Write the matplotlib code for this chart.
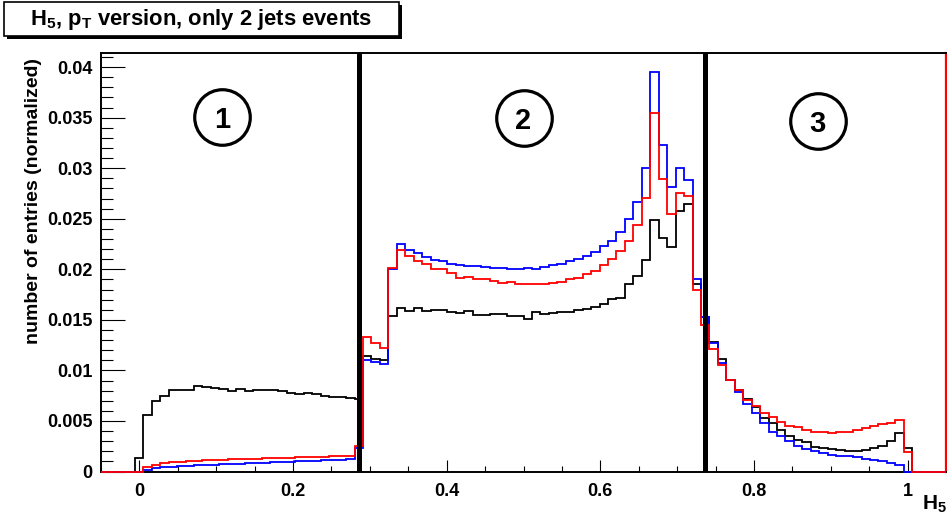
import numpy as np
import matplotlib
matplotlib.use("Agg")
import matplotlib.pyplot as plt
from matplotlib.patches import Rectangle
from matplotlib.ticker import MultipleLocator, FuncFormatter

plt.rcParams['font.family'] = ['Liberation Sans', 'DejaVu Sans']
plt.rcParams['mathtext.fontset'] = 'custom'
plt.rcParams['mathtext.bf'] = 'Liberation Sans:bold'
plt.rcParams['mathtext.rm'] = 'Liberation Sans:bold'
plt.rcParams['mathtext.it'] = 'Liberation Sans:bold'

# ---------------- data (100 bins from -0.05 to 1.05) ----------------
x_min, x_max, n_bins = -0.05, 1.05, 100

black = [0, 0, 0, 0, 0.0013, 0.0056, 0.0070, 0.0075, 0.0081, 0.0081,
         0.0081, 0.0085, 0.0084, 0.0083, 0.0082, 0.0080, 0.0082, 0.0080, 0.0081, 0.0081,
         0.0081, 0.0080, 0.0078, 0.0077, 0.0078, 0.0077, 0.0075, 0.0074, 0.0074, 0.0073,
         0.0072, 0.0114, 0.0111, 0.0110, 0.0154, 0.0162, 0.0159, 0.0162, 0.0159, 0.0160,
         0.0160, 0.0158, 0.0157, 0.0159, 0.0155, 0.0155, 0.0156, 0.0156, 0.0154, 0.0154,
         0.0151, 0.0158, 0.0156, 0.0157, 0.0158, 0.0158, 0.0160, 0.0161, 0.0163, 0.0166,
         0.0171, 0.0172, 0.0185, 0.0193, 0.0209, 0.0249, 0.0231, 0.0222, 0.0258, 0.0265,
         0.0185, 0.0153, 0.0128, 0.0111, 0.0091, 0.0081, 0.0072, 0.0064, 0.0053, 0.0048,
         0.0041, 0.0035, 0.0031, 0.0029, 0.0024, 0.0023, 0.0022, 0.0021, 0.0020, 0.0020,
         0.0021, 0.0023, 0.0025, 0.0030, 0.0038, 0.0023, 0, 0, 0, 0]

blue = [0, 0, 0, 0, 0, 0.00015, 0.0003, 0.0004, 0.00048, 0.00052,
        0.00056, 0.0006, 0.00064, 0.00068, 0.0007, 0.00073, 0.00076, 0.0008, 0.00083, 0.00086,
        0.0009, 0.00093, 0.00096, 0.0010, 0.00103, 0.00106, 0.0011, 0.00113, 0.00116, 0.0012,
        0.0023, 0.0110, 0.0108, 0.0106, 0.0200, 0.0225, 0.0219, 0.0216, 0.0212, 0.0209,
        0.0208, 0.0205, 0.0204, 0.0203, 0.0203, 0.0202, 0.0201, 0.0201, 0.0200, 0.0200,
        0.0201, 0.0200, 0.0202, 0.0204, 0.0205, 0.0208, 0.0210, 0.0213, 0.0217, 0.0223,
        0.0228, 0.0237, 0.0250, 0.0267, 0.0300, 0.0395, 0.0323, 0.0281, 0.0300, 0.0288,
        0.0190, 0.0153, 0.0127, 0.0107, 0.0091, 0.0079, 0.0067, 0.0058, 0.0048, 0.0039,
        0.0035, 0.0030, 0.0025, 0.0022, 0.0020, 0.0018, 0.0016, 0.0015, 0.0015, 0.0014,
        0.0012, 0.0011, 0.0010, 0.0008, 0.0006, 0, 0, 0, 0, 0]

red = [0, 0, 0, 0, 0, 0.0004, 0.00065, 0.0008, 0.0009, 0.00095,
       0.0010, 0.00105, 0.0011, 0.00113, 0.00117, 0.0012, 0.00122, 0.00125, 0.00128, 0.0013,
       0.00133, 0.00135, 0.00137, 0.0014, 0.00142, 0.00145, 0.00147, 0.0015, 0.0015, 0.00152,
       0.0025, 0.0133, 0.0127, 0.0122, 0.0201, 0.0219, 0.0213, 0.0208, 0.0205, 0.0200,
       0.0200, 0.0196, 0.0191, 0.0192, 0.0190, 0.0190, 0.0188, 0.0186, 0.0187, 0.0185,
       0.0185, 0.0185, 0.0185, 0.0186, 0.0187, 0.0190, 0.0191, 0.0195, 0.0198, 0.0204,
       0.0210, 0.0218, 0.0228, 0.0244, 0.0271, 0.0355, 0.0289, 0.0255, 0.0276, 0.0273,
       0.0180, 0.0145, 0.0121, 0.0105, 0.0091, 0.0081, 0.0071, 0.0065, 0.0058, 0.0054,
       0.0049, 0.0045, 0.0044, 0.0041, 0.0039, 0.0039, 0.0038, 0.0039, 0.0039, 0.0041,
       0.0043, 0.0045, 0.0047, 0.0048, 0.0051, 0.0019, 0, 0, 0, 0]

region_cuts = [0.286, 0.736]
region_labels = ['1', '2', '3']
region_label_x = [0.108, 0.500, 0.883]
region_label_y = [0.0351, 0.0350, 0.0347]

title = r'$\mathbf{H_5}$, $\mathbf{p_T}$ version, only 2 jets events'
ylabel = 'number of entries (normalized)'

# ---------------- figure ----------------
W, H = 947, 517
fig = plt.figure(figsize=(W / 100, H / 100), dpi=100)
ax_l, ax_r, ax_t, ax_b = 101, 946, 53, 471.5
ax = fig.add_axes([ax_l / W, 1 - ax_b / H, (ax_r - ax_l) / W, (ax_b - ax_t) / H])

edges = np.linspace(x_min, x_max, n_bins + 1)
for vals, col in [(black, 'black'), (blue, '#0000ff'), (red, '#ff0000')]:
    ax.stairs(vals, edges, color=col, lw=1.3, zorder=3, clip_on=False)

for xc in region_cuts:
    ax.axvline(xc, ymin=0, ymax=0.996, color='black', lw=3.6, zorder=4)

for lx, ly, lab in zip(region_label_x, region_label_y, region_labels):
    ax.plot([lx], [ly], marker='o', markersize=40, markerfacecolor='none',
            markeredgecolor='black', markeredgewidth=2.3, zorder=5)
    ax.text(lx, ly, lab, ha='center', va='center_baseline', fontsize=21,
            fontweight='bold', zorder=6)

ax.set_xlim(x_min, x_max)
ax.set_ylim(0, 0.0414)

ax.xaxis.set_major_locator(MultipleLocator(0.2))
ax.xaxis.set_minor_locator(MultipleLocator(0.05))
ax.yaxis.set_major_locator(MultipleLocator(0.005))
ax.yaxis.set_minor_locator(MultipleLocator(0.001))
ax.xaxis.set_major_formatter(FuncFormatter(lambda v, p: ('%g' % round(v, 4))))
ax.yaxis.set_major_formatter(FuncFormatter(lambda v, p: ('%g' % round(v, 5))))

ax.tick_params(axis='x', which='major', direction='in', length=8.6, width=0.8,
               labelsize=13, pad=8, top=False)
ax.tick_params(axis='x', which='minor', direction='in', length=4.3, width=0.8, top=False)
ax.tick_params(axis='y', which='major', direction='in', length=17.3, width=0.8,
               labelsize=13, pad=6, right=False)
ax.tick_params(axis='y', which='minor', direction='in', length=8.6, width=0.8, right=False)
for lab in ax.get_xticklabels() + ax.get_yticklabels():
    lab.set_fontweight('bold')

for s in ['left', 'bottom', 'top']:
    ax.spines[s].set_linewidth(1.4)
    ax.spines[s].set_color('black')
ax.spines['right'].set_color('#ff0000')
ax.spines['right'].set_linewidth(1.6)

# y label (top aligned as in ROOT)
fig.text(34 / W, 1 - 58 / H, ylabel, rotation=90, ha='center', va='top',
         fontsize=14, fontweight='bold')
# x label
fig.text(947 / W, 1 - 515 / H, r'$\mathbf{H_5}$', ha='right', va='bottom',
         fontsize=15, fontweight='bold')

# title box with shadow
bx0, by0, bx1, by1 = 4, 2, 399, 36
fig.patches.append(Rectangle(((bx0 + 3) / W, 1 - (by1 + 3) / H), (bx1 - bx0) / W,
                             (by1 - by0) / H, transform=fig.transFigure,
                             facecolor='black', edgecolor='black', lw=0))
fig.patches.append(Rectangle((bx0 / W, 1 - by1 / H), (bx1 - bx0) / W, (by1 - by0) / H,
                             transform=fig.transFigure, facecolor='white',
                             edgecolor='black', lw=1.2))
fig.text((bx0 + bx1) / 2 / W, 1 - 25 / H, title, ha='center', va='baseline',
         fontsize=15.8, fontweight='bold')

fig.savefig('out.png', dpi=100)
